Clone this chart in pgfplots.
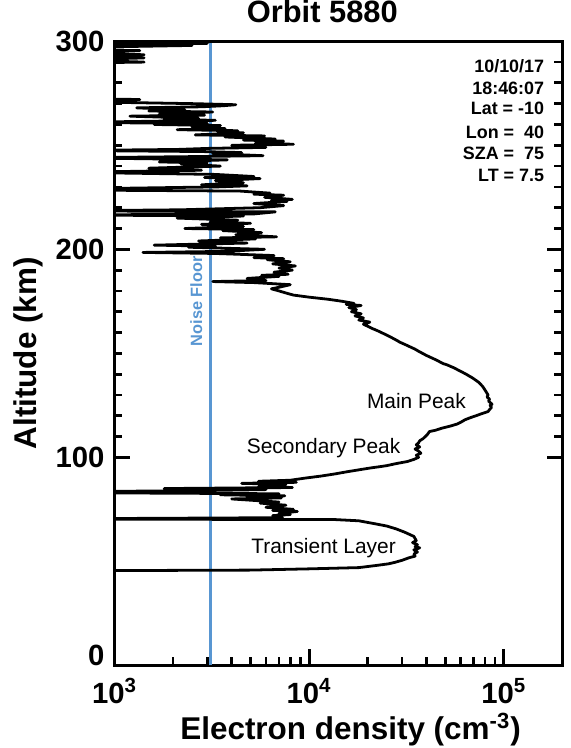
\documentclass[border=0pt]{standalone}
\usepackage{pgfplots}
\usepackage{pgfplotstable}
\pgfplotsset{compat=1.18}
\usepackage{fontspec}
\setmainfont{Liberation Sans}
\definecolor{noiseblue}{RGB}{88,150,210}

% electron density profile, altitude (km) vs Ne (cm^-3); values < 1e3 are off scale
\pgfplotstableread{
alt ne
300.5 3900
300 3900
299.5 1200
299 3000
298.5 700
298 2500
297 600
296 600
295.5 1350
295 600
293.5 1420
292.5 600
292 1420
291 600
290 1420
289.5 600
285 600
280 600
275 600
272.5 600
272 1350
271 600
270 2600
269.5 4200
269 3600
268.5 2800
268 1300
267 2300
266.5 1500
266 3200
265 1700
264.5 2900
264 1200
263 2700
262.5 1800
262 3300
261 600
260.5 3000
260 1600
259.5 3500
259 2500
258 3700
257.5 2100
257 4300
256.5 3400
256 4600
255 2600
254.5 5900
254 3700
253 6700
252.5 4600
252 7400
251 5300
250.5 8300
250 4000
249 6000
248.5 3000
248 2100
247.5 600
247 2800
246.5 4500
246 3200
245 5800
244.5 2200
244 600
243 3800
242 1700
241.5 3000
241 2200
240 3500
239 1500
238 2800
237.5 1300
237 600
236 3300
235 5200
234.5 2900
234 5600
233 3300
232 4600
231 2800
230.5 4800
230 3400
229 600
228.5 600
228 4400
227 6300
226.5 5200
226 7400
225 5900
224 8200
223.5 6400
223 7700
222 5200
221 7400
220 5600
219 2200
218.5 600
218 6700
217 5200
216.5 600
216 4600
215 2100
214 4300
213 3100
212.5 5000
212 2800
211 4600
210 2300
209.5 5200
209 3600
208 5700
207 4200
206 6800
205.5 3500
205 5300
204 2700
203 4800
202 1600
201.5 3300
201 2400
200 5900
199 3700
198.5 1400
198 3300
197 6600
196 5200
195.5 7400
195 6100
194 8000
193 6500
192 8500
191 7000
190 8200
189 6600
188 7800
187.5 5700
187 7000
186 4800
185 6000
184.5 3200
184 5200
183 8000
182 7200
181 6400
180 7000
179 7600
178 8300
177 10000
176 12500
175 14800
174 17000
173.5 15500
173 18500
172 16000
171 17500
170 16500
169 18500
168 17200
167 19000
166 18000
165 20500
164 19000
163 20000
162 21000
161 22300
160 23500
158 26000
156 28500
155.5 29000
154 31500
152 35000
151 36500
149 40000
147 44500
145 49000
144.5 51000
143 55500
141 61000
140 64000
138 69500
136 74500
134 78000
132 80500
130 83000
129 82000
128 84500
127 83500
126 86000
125.5 87000
125 85000
124 86500
123 84500
122 83000
121 77000
120 72000
119 67000
118 63000
117 60500
116 57500
115 53000
114 48000
113 44500
112.4 41500
111 40500
110 39500
109 38500
108 37000
107 36500
106 35500
105 37000
104 35000
103 36500
102 37500
101 35500
100 36500
99 34500
98 32000
97 28000
96 25000
95.5 23000
95 21000
94 18000
93 15500
92 13500
91 11500
90 9500
89 8000
88.5 5500
88 8600
87.5 4500
87 7600
86 5500
85.5 8200
85 1800
84.5 6000
84 2700
83.5 600
83 600
82.5 7000
82 3500
81.5 7500
81 4800
80.5 7200
80 4000
79 5800
78.5 7000
78 5600
77 7600
76 6000
75 8300
74.5 6500
74 8700
73 7000
72.5 8000
72 6500
71 7300
70.5 600
70.3 600
70.1 13500
69.5 18000
68 22000
67 25000
65.6 28000
64 31000
62 34500
60 35500
59 34000
58 36000
57 35000
56.5 37000
55.5 34500
54.5 36000
53.5 34500
52.5 35000
51.7 32500
50.5 30000
49.5 27500
48.8 25500
48 22000
47 18000
46.4 10000
45.8 5000
45.5 600
45 400
0 400
}\profile

\begin{document}
\begin{tikzpicture}
\begin{axis}[
  scale only axis,
  width=225pt, height=313.5pt,
  xmode=log,
  xmin=1000, xmax=200000,
  ymin=0, ymax=300,
  axis line style={line width=1.4pt},
  every tick/.style={black, line width=1.4pt},
  tick align=inside,
  major tick length=8pt, minor tick length=4pt,
  xtick pos=left, ytick pos=both,
  xtick={1000,10000,100000},
  xticklabels={10\textsuperscript{3},10\textsuperscript{4},10\textsuperscript{5}},
  ytick={100,200,300},
  minor y tick num=9,
  extra y ticks={0},
  extra y tick style={yticklabel style={yshift=5pt}},
  /pgf/number format/assume math mode=true,
  tick label style={font=\fontsize{14.7}{16}\selectfont\bfseries},
  xticklabel style={anchor=base, inner sep=0pt, yshift=-19pt},
  yticklabel style={anchor=east, xshift=-1.5pt},
  xlabel={Electron density (cm\textsuperscript{-3})},
  ylabel={Altitude (km)},
  label style={font=\fontsize{15.8}{18}\selectfont\bfseries, inner sep=0pt},
  xlabel style={at={(axis description cs:0.527,0)}, anchor=base, yshift=-37pt},
  ylabel style={at={(axis description cs:0,0.5)}, anchor=center, yshift=43.5pt},
  title={Orbit 5880},
  title style={at={(axis description cs:0.464,1)}, anchor=base, inner sep=0pt, yshift=3.5pt,
    font=\fontsize{15.5}{17}\selectfont\bfseries},
]
\addplot[noiseblue, line width=1.5pt] coordinates {(3130,0) (3130,300)};
\addplot[black, line width=1.4pt, line join=round] table[x=ne, y=alt] {\profile};

\node[rotate=90, text=noiseblue, font=\fontsize{8.2}{9}\selectfont\bfseries]
  at (axis cs:2630,175) {Noise Floor};

\node[anchor=base, font=\fontsize{10.5}{12}\selectfont] at (axis cs:35560,123.4) {Main Peak};
\node[anchor=base, font=\fontsize{10.5}{12}\selectfont] at (axis cs:11860,101.9) {Secondary Peak};
\node[anchor=base, font=\fontsize{10.5}{12}\selectfont] at (axis cs:11860,53.7) {Transient Layer};

\begin{scope}[every node/.style={anchor=base east, inner sep=0pt, font=\fontsize{9}{10}\selectfont\bfseries}]
\node at (axis description cs:0.96,0.9506) {10/10/17};
\node at (axis description cs:0.96,0.9155) {18:46:07};
\node at (axis description cs:0.96,0.882) {Lat = -10};
\node at (axis description cs:0.96,0.845) {Lon = \ 40};
\node at (axis description cs:0.96,0.810) {SZA = \ 75};
\node at (axis description cs:0.96,0.775) {LT = 7.5};
\end{scope}
\end{axis}
\path ([shift={(-57.5pt,-41.5pt)}]current axis.south west) rectangle ([shift={(4pt,19pt)}]current axis.north east);
\end{tikzpicture}
\end{document}
